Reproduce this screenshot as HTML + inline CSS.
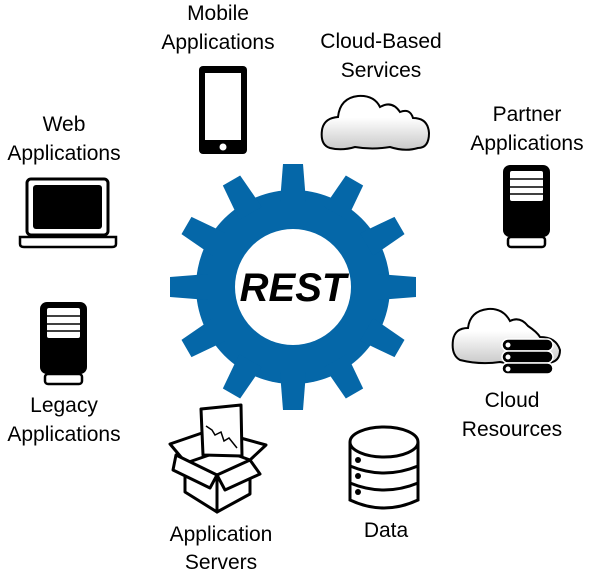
<!DOCTYPE html>
<html><head><style>html,body{margin:0;padding:0;background:#fff}svg{display:block}</style></head><body>
<svg width="590" height="576" viewBox="0 0 590 576" xmlns="http://www.w3.org/2000/svg">
<defs>
<linearGradient id="cg" x1="0" y1="0" x2="0" y2="1"><stop offset="0.4" stop-color="#fff"/><stop offset="1" stop-color="#c8c8c8"/></linearGradient>
<g id="srv">
<rect x="0" y="0" width="47" height="72" rx="7" fill="#000"/>
<rect x="7" y="6" width="33" height="30" rx="2" fill="#fff"/>
<line x1="7" y1="14" x2="40" y2="14" stroke="#000" stroke-width="1.5"/>
<line x1="7" y1="22" x2="40" y2="22" stroke="#000" stroke-width="1.5"/>
<line x1="7" y1="29" x2="40" y2="29" stroke="#000" stroke-width="1.5"/>
<rect x="5" y="72" width="37" height="10" rx="3" fill="#fff" stroke="#000" stroke-width="2.5"/>
</g>
</defs>
<g fill="#0567a8" transform="translate(293,287)">
<circle r="97"/>
<g id="t"><polygon points="-13,-85 13,-85 10,-123 -10,-123"/></g>
<use href="#t" transform="rotate(30)"/><use href="#t" transform="rotate(60)"/><use href="#t" transform="rotate(90)"/>
<use href="#t" transform="rotate(120)"/><use href="#t" transform="rotate(150)"/><use href="#t" transform="rotate(180)"/>
<use href="#t" transform="rotate(210)"/><use href="#t" transform="rotate(240)"/><use href="#t" transform="rotate(270)"/>
<use href="#t" transform="rotate(300)"/><use href="#t" transform="rotate(330)"/>
<circle r="58" fill="#fff"/>
</g>
<text x="293" y="301" text-anchor="middle" font-family="Liberation Sans" font-weight="bold" font-style="italic" font-size="40">REST</text>
<g font-family="Liberation Sans, sans-serif" font-size="21" text-anchor="middle" fill="#000">
<text x="218" y="20">Mobile</text><text x="218" y="49">Applications</text>
<text x="381" y="48">Cloud-Based</text><text x="381" y="77">Services</text>
<text x="527" y="121">Partner</text><text x="527" y="150">Applications</text>
<text x="64" y="131">Web</text><text x="64" y="160">Applications</text>
<text x="64" y="412">Legacy</text><text x="64" y="441">Applications</text>
<text x="221" y="541">Application</text><text x="221" y="569">Servers</text>
<text x="386" y="537">Data</text>
<text x="512" y="407">Cloud</text><text x="512" y="436">Resources</text>
</g>
<rect x="199" y="66" width="48" height="88" rx="4" fill="#000"/>
<rect x="205" y="73" width="36" height="67" fill="#fff"/>
<circle cx="223" cy="147" r="3.5" fill="#fff"/>
<rect x="27" y="179" width="81" height="56" rx="4" fill="#fff" stroke="#000" stroke-width="3"/>
<rect x="33" y="185" width="69" height="44" rx="3" fill="#000"/>
<path d="M20 237 H116 V244 Q116 247 112 247 H24 Q20 247 20 244 Z" fill="#fff" stroke="#000" stroke-width="2.5"/>
<path d="M330 148 Q320 145 322 130 Q324 118 338 117 Q340 98 358 96 Q374 95 380 107 Q392 100 400 112 Q410 108 413 118 Q428 118 429 133 Q429 148 418 148 Q405 152 390 147 Q372 150 355 147 Q342 151 330 148 Z" fill="url(#cg)" stroke="#000" stroke-width="2"/>
<use href="#srv" x="503" y="165"/>
<use href="#srv" x="40" y="302"/>
<g fill="#fff" stroke="#000" stroke-width="3" stroke-linejoin="round">
<polygon points="170,444 202,433 218,452 186,463"/>
<polygon points="237,437 266,445 250,460 228,452"/>
<polygon points="201,409 241,405 242,456 203,455"/>
<polygon points="185,470 217,475 217,512 185,492"/>
<polygon points="217,475 250,467 250,494 217,512"/>
<polygon points="176,455 217,475 210,488 173,470"/>
<polygon points="217,475 250,460 260,474 225,490"/>
</g>
<polyline points="206,426 212,430 215,435 221,432 224,441 229,438 237,448" fill="none" stroke="#000" stroke-width="1.5"/>
<g fill="#fff" stroke="#000" stroke-width="3">
<path d="M350 442 V500 Q384 516 418 500 V442"/>
<ellipse cx="384" cy="442" rx="34" ry="15"/>
<path d="M350 466 Q384 480 418 466" fill="none"/>
<path d="M350 483 Q384 497 418 483" fill="none"/>
</g>
<circle cx="358" cy="460" r="3" fill="#000"/><circle cx="358" cy="476" r="3" fill="#000"/><circle cx="358" cy="492" r="3" fill="#000"/>
<path d="M460 360 Q451 355 453 340 Q455 328 468 328 Q470 311 488 309 Q503 308 510 321 Q520 316 528 326 Q537 332 540 337 Q556 337 560 350 Q560 362 548 363 Q520 366 500 362 Q480 365 460 360 Z" fill="url(#cg)" stroke="#000" stroke-width="2"/>
<g fill="#000" stroke="#fff" stroke-width="1.5">
<rect x="502" y="339" width="51" height="12" rx="6"/>
<rect x="502" y="351" width="51" height="12" rx="6"/>
<rect x="502" y="363" width="51" height="11" rx="5.5"/>
</g>
<circle cx="508" cy="345" r="2.5" fill="#fff"/><circle cx="508" cy="357" r="2.5" fill="#fff"/><circle cx="508" cy="369" r="2.5" fill="#fff"/>
</svg>
</body></html>
